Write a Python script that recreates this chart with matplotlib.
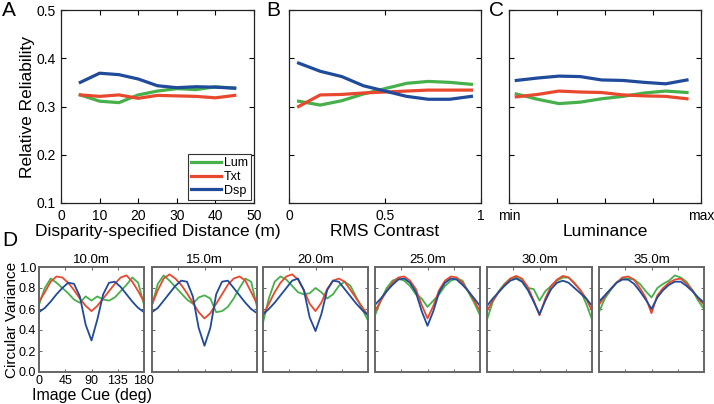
import numpy as np
import matplotlib
matplotlib.use("Agg")
import matplotlib.pyplot as plt

plt.rcParams['font.family'] = ['Liberation Sans', 'DejaVu Sans']

GREEN = '#47b04b'
RED = '#e8492e'
BLUE = '#1f4b9a'

series_names = ['Lum', 'Txt', 'Dsp']

# Panel A
dist = [5, 10, 15, 20, 25, 30, 35, 40, 45]
a_lum = [0.324, 0.311, 0.308, 0.324, 0.332, 0.337, 0.335, 0.341, 0.338]
a_txt = [0.324, 0.321, 0.324, 0.317, 0.323, 0.322, 0.321, 0.318, 0.323]
a_dsp = [0.350, 0.369, 0.366, 0.357, 0.343, 0.339, 0.341, 0.340, 0.338]

# Panel B
contrast = [0.05, 0.1625, 0.275, 0.3875, 0.5, 0.6125, 0.725, 0.8375, 0.95]
b_lum = [0.311, 0.303, 0.312, 0.326, 0.337, 0.348, 0.352, 0.350, 0.346]
b_txt = [0.300, 0.324, 0.325, 0.328, 0.330, 0.332, 0.334, 0.334, 0.334]
b_dsp = [0.390, 0.373, 0.362, 0.343, 0.332, 0.321, 0.315, 0.315, 0.321]

# Panel C
lum_levels = [0.038, 0.149, 0.26, 0.371, 0.482, 0.593, 0.705, 0.816, 0.927]
c_lum = [0.326, 0.315, 0.306, 0.309, 0.316, 0.321, 0.328, 0.332, 0.329]
c_txt = [0.320, 0.325, 0.332, 0.330, 0.329, 0.324, 0.322, 0.321, 0.316]
c_dsp = [0.354, 0.359, 0.363, 0.362, 0.355, 0.354, 0.350, 0.347, 0.355]
c_ticklabels = ['min', '', '', '', 'max']

# Panel D
cue_deg = [0, 10, 20, 30, 40, 50, 60, 70, 80, 90, 100, 110, 120, 130, 140, 150, 160, 170, 180]
d_titles = ['10.0m', '15.0m', '20.0m', '25.0m', '30.0m', '35.0m']
d_lum = [
    [0.64, 0.80, 0.89, 0.85, 0.80, 0.75, 0.69, 0.66, 0.72, 0.68, 0.72, 0.69, 0.68, 0.71, 0.77, 0.83, 0.90, 0.85, 0.64],
    [0.64, 0.84, 0.92, 0.87, 0.81, 0.75, 0.69, 0.65, 0.71, 0.73, 0.70, 0.57, 0.58, 0.62, 0.70, 0.80, 0.89, 0.86, 0.62],
    [0.47, 0.70, 0.86, 0.91, 0.88, 0.82, 0.76, 0.74, 0.75, 0.80, 0.76, 0.70, 0.74, 0.82, 0.86, 0.82, 0.71, 0.60, 0.49],
    [0.54, 0.68, 0.80, 0.87, 0.89, 0.87, 0.82, 0.74, 0.70, 0.62, 0.68, 0.74, 0.82, 0.87, 0.89, 0.87, 0.76, 0.66, 0.54],
    [0.50, 0.67, 0.77, 0.84, 0.89, 0.90, 0.87, 0.80, 0.79, 0.68, 0.77, 0.82, 0.87, 0.90, 0.90, 0.85, 0.78, 0.65, 0.50],
    [0.57, 0.70, 0.78, 0.85, 0.89, 0.89, 0.88, 0.84, 0.77, 0.71, 0.80, 0.84, 0.87, 0.92, 0.90, 0.86, 0.78, 0.68, 0.60],
]
d_txt = [
    [0.67, 0.76, 0.86, 0.91, 0.90, 0.85, 0.78, 0.70, 0.63, 0.58, 0.63, 0.70, 0.77, 0.84, 0.90, 0.92, 0.86, 0.77, 0.67],
    [0.64, 0.78, 0.89, 0.93, 0.89, 0.83, 0.75, 0.66, 0.57, 0.51, 0.56, 0.65, 0.74, 0.83, 0.89, 0.91, 0.87, 0.76, 0.65],
    [0.54, 0.65, 0.76, 0.85, 0.91, 0.93, 0.88, 0.78, 0.65, 0.58, 0.66, 0.79, 0.87, 0.89, 0.86, 0.78, 0.70, 0.62, 0.54],
    [0.58, 0.68, 0.77, 0.85, 0.90, 0.91, 0.87, 0.79, 0.64, 0.51, 0.63, 0.78, 0.87, 0.91, 0.90, 0.85, 0.77, 0.68, 0.58],
    [0.58, 0.68, 0.76, 0.83, 0.89, 0.915, 0.89, 0.81, 0.68, 0.54, 0.70, 0.82, 0.88, 0.915, 0.90, 0.84, 0.78, 0.70, 0.58],
    [0.64, 0.72, 0.79, 0.85, 0.90, 0.91, 0.88, 0.80, 0.71, 0.56, 0.73, 0.80, 0.85, 0.88, 0.89, 0.84, 0.78, 0.70, 0.64],
]
d_dsp = [
    [0.57, 0.61, 0.67, 0.74, 0.80, 0.85, 0.84, 0.72, 0.45, 0.30, 0.50, 0.74, 0.85, 0.86, 0.81, 0.74, 0.67, 0.61, 0.57],
    [0.57, 0.61, 0.68, 0.75, 0.82, 0.87, 0.86, 0.72, 0.42, 0.25, 0.42, 0.74, 0.86, 0.87, 0.80, 0.73, 0.66, 0.60, 0.56],
    [0.55, 0.60, 0.66, 0.73, 0.80, 0.87, 0.89, 0.78, 0.52, 0.39, 0.55, 0.78, 0.87, 0.86, 0.79, 0.72, 0.65, 0.59, 0.54],
    [0.64, 0.70, 0.77, 0.83, 0.88, 0.89, 0.85, 0.76, 0.58, 0.44, 0.58, 0.76, 0.85, 0.89, 0.88, 0.83, 0.77, 0.70, 0.63],
    [0.63, 0.70, 0.76, 0.82, 0.87, 0.89, 0.86, 0.78, 0.67, 0.55, 0.68, 0.79, 0.85, 0.87, 0.85, 0.80, 0.75, 0.70, 0.63],
    [0.67, 0.73, 0.79, 0.85, 0.88, 0.88, 0.84, 0.77, 0.69, 0.60, 0.71, 0.78, 0.83, 0.86, 0.86, 0.82, 0.77, 0.71, 0.66],
]

W, H = 714, 404
fig = plt.figure(figsize=(W / 100, H / 100), dpi=100)


def ax_px(left, top, right, bottom):
    return fig.add_axes([left / W, 1 - bottom / H, (right - left) / W, (bottom - top) / H])


def style_top(ax):
    ax.tick_params(direction='in', top=True, right=True, labelsize=10, length=3.5, width=0.8, pad=4)
    for s in ax.spines.values():
        s.set_linewidth(0.9)
        s.set_color('#222222')


LW = 2.3
LBL = 12.5
axA = ax_px(61, 10, 254, 203)
axA.plot(dist, a_lum, color=GREEN, lw=LW, label=series_names[0])
axA.plot(dist, a_txt, color=RED, lw=LW, label=series_names[1])
axA.plot(dist, a_dsp, color=BLUE, lw=LW, label=series_names[2])
axA.set_xlim(0, 50)
axA.set_ylim(0.1, 0.5)
axA.set_xticks([0, 10, 20, 30, 40, 50])
axA.set_yticks([0.1, 0.2, 0.3, 0.4, 0.5])
axA.set_ylabel('Relative Reliability', fontsize=LBL, labelpad=1)
axA.set_xlabel('Disparity-specified Distance (m)', fontsize=LBL, labelpad=1)
style_top(axA)
leg = axA.legend(loc='lower right', fontsize=9, handlelength=2.4, borderaxespad=0.25,
                 handletextpad=0.2, labelspacing=0.15, borderpad=0.25, fancybox=False,
                 framealpha=1, edgecolor='#333333')
leg.get_frame().set_linewidth(0.8)

axB = ax_px(289, 10, 481, 203)
axB.plot(contrast, b_lum, color=GREEN, lw=LW)
axB.plot(contrast, b_txt, color=RED, lw=LW)
axB.plot(contrast, b_dsp, color=BLUE, lw=LW)
axB.set_xlim(0, 1)
axB.set_ylim(0.1, 0.5)
axB.set_xticks([0, 0.5, 1])
axB.set_xticklabels(['0', '0.5', '1'])
axB.set_yticks([0.1, 0.2, 0.3, 0.4, 0.5])
axB.set_yticklabels([])
axB.set_xlabel('RMS Contrast', fontsize=LBL, labelpad=1)
style_top(axB)

axC = ax_px(509, 10, 701, 203)
axC.plot(lum_levels, c_lum, color=GREEN, lw=LW)
axC.plot(lum_levels, c_txt, color=RED, lw=LW)
axC.plot(lum_levels, c_dsp, color=BLUE, lw=LW)
axC.set_xlim(0, 1)
axC.set_ylim(0.1, 0.5)
axC.set_xticks([0, 0.25, 0.5, 0.75, 1])
axC.set_xticklabels(c_ticklabels)
axC.set_yticks([0.1, 0.2, 0.3, 0.4, 0.5])
axC.set_yticklabels([])
axC.set_xlabel('Luminance', fontsize=LBL, labelpad=1)
style_top(axC)

for lbl, x, y in [('A', 2, 1), ('B', 266, 1), ('C', 489, 1), ('D', 2, 231)]:
    fig.text(x / W, 1 - y / H, lbl, fontsize=15, va='top', ha='left')

d_lefts = [39, 152, 263, 375, 487, 599]
for i, left in enumerate(d_lefts):
    ax = ax_px(left, 267, left + 105, 372)
    ax.plot(cue_deg, d_lum[i], color=GREEN, lw=1.3)
    ax.plot(cue_deg, d_txt[i], color=RED, lw=1.3)
    ax.plot(cue_deg, d_dsp[i], color=BLUE, lw=1.3)
    ax.set_xlim(0, 180)
    ax.set_ylim(0, 1)
    ax.set_xticks([0, 45, 90, 135, 180])
    ax.set_yticks([0, 0.2, 0.4, 0.6, 0.8, 1.0])
    ax.tick_params(direction='in', top=True, right=True, labelsize=9, length=2.5,
                   width=0.7, color='#666666', pad=2)
    for s in ax.spines.values():
        s.set_linewidth(1.4)
        s.set_color('#666666')
    ax.set_title(d_titles[i], fontsize=9.5, pad=3)
    if i == 0:
        ax.set_yticklabels(['0.0', '0.2', '0.4', '0.6', '0.8', '1.0'])
        ax.set_ylabel('Circular Variance', fontsize=11, labelpad=0)
        ax.set_xlabel('Image Cue (deg)', fontsize=11.5, labelpad=1)
    else:
        ax.set_xticklabels([])
        ax.set_yticklabels([])

fig.savefig('out.png', dpi=100)
